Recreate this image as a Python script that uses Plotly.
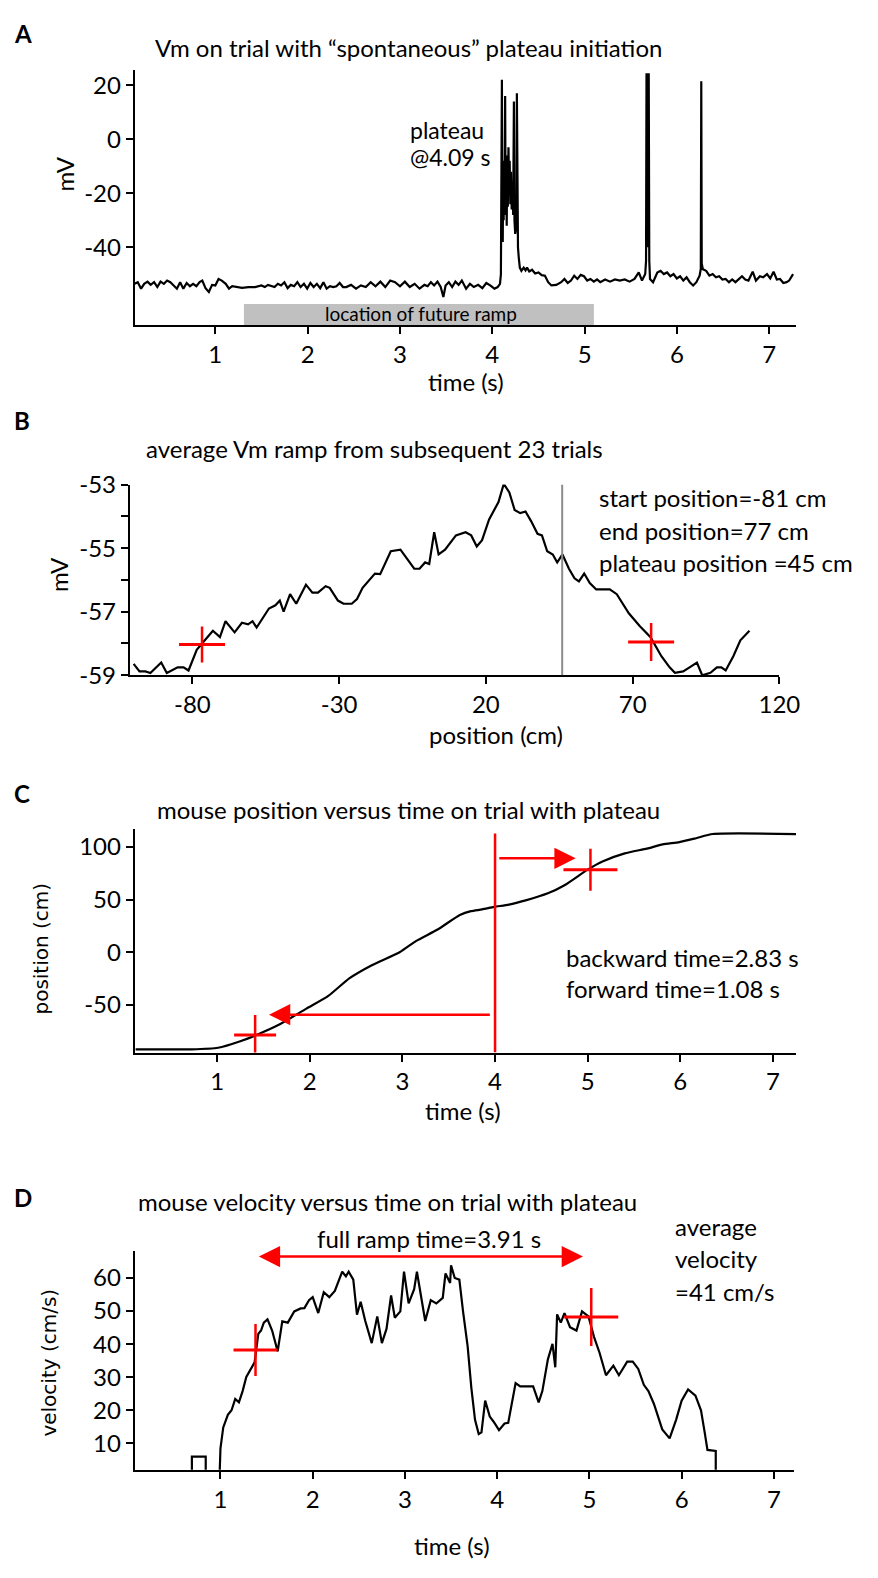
import plotly.graph_objects as go

W, H = 878, 1578
FONT = "Lato, Open Sans, sans-serif"
FONT2 = "DejaVu Sans, Verdana, sans-serif"
RED = "#ff0000"

# ---------------- Panel A: Vm trace ----------------
vm_time = [0.125, 0.16, 0.196, 0.23, 0.266, 0.30, 0.337, 0.372, 0.407, 0.443, 0.478, 0.513, 0.549, 0.584,
           0.619, 0.654, 0.69, 0.725, 0.76, 0.795, 0.83, 0.859, 0.894, 0.93, 0.965, 1.0, 1.035, 1.07, 1.113,
           1.148, 1.183, 1.219, 1.289, 1.36, 1.43, 1.5, 1.536, 1.571, 1.607, 1.642, 1.677, 1.712, 1.748,
           1.783, 1.818, 1.854, 1.889, 1.924, 1.96, 1.995, 2.03, 2.065, 2.1, 2.136, 2.171, 2.206, 2.242,
           2.277, 2.312, 2.347, 2.383, 2.418, 2.47, 2.524, 2.577, 2.63, 2.683, 2.735, 2.788, 2.841, 2.894,
           2.947, 3.0, 3.053, 3.106, 3.159, 3.212, 3.265, 3.3, 3.335, 3.37, 3.406, 3.441, 3.47, 3.494,
           3.529, 3.565, 3.6, 3.635, 3.67, 3.716, 3.758, 3.8, 3.847, 3.892, 3.935, 3.977, 4.023, 4.058,
           4.083, 4.093,
           4.100, 4.104, 4.108, 4.113, 4.118, 4.123, 4.128, 4.133, 4.139, 4.144, 4.150, 4.156, 4.162,
           4.168, 4.175, 4.182, 4.188, 4.195, 4.202, 4.210, 4.218, 4.226, 4.234, 4.240, 4.248, 4.256,
           4.262, 4.266, 4.270, 4.278, 4.287, 4.298, 4.315, 4.34, 4.36, 4.376, 4.40, 4.43, 4.464, 4.5,
           4.535, 4.57, 4.605, 4.64, 4.693, 4.746, 4.781, 4.817, 4.852, 4.887, 4.922, 4.958, 4.993,
           5.028, 5.063, 5.099, 5.134, 5.169, 5.222, 5.275, 5.328, 5.381, 5.434, 5.487, 5.54, 5.586,
           5.621, 5.656, 5.665, 5.670, 5.676, 5.682, 5.688, 5.694, 5.700, 5.708, 5.741, 5.787, 5.822,
           5.857, 5.893, 5.928, 5.963, 5.998, 6.034, 6.069, 6.104, 6.139, 6.175, 6.21, 6.245, 6.258,
           6.263, 6.268, 6.28, 6.316, 6.351, 6.386, 6.422, 6.457, 6.492, 6.527, 6.563, 6.598, 6.633,
           6.668, 6.704, 6.739, 6.774, 6.82, 6.855, 6.898, 6.933, 6.975, 7.01, 7.046, 7.081, 7.116,
           7.152, 7.187, 7.215, 7.257]
vm_mv = [-53.5, -52.9, -55.3, -53.5, -52.7, -53.9, -52.9, -54.7, -52.7, -53.5, -52.3, -52.9, -54.1, -55.3,
         -52.9, -55.3, -53.2, -54.4, -53.5, -54.4, -52.9, -52.3, -55.1, -56.5, -53.9, -54.1, -51.7, -52.3,
         -53.5, -55.3, -54.4, -54.7, -55.0, -54.7, -54.7, -54.1, -54.7, -53.9, -54.4, -54.7, -53.5, -54.1,
         -52.9, -55.1, -53.9, -54.4, -52.9, -54.7, -53.5, -55.3, -53.2, -54.7, -53.5, -55.1, -52.9, -55.3,
         -54.4, -54.7, -54.4, -53.2, -54.7, -54.7, -53.9, -55.3, -54.1, -54.7, -52.9, -54.4, -52.7, -54.7,
         -52.3, -52.9, -54.4, -52.7, -54.7, -53.5, -55.3, -53.9, -54.4, -52.9, -54.1, -52.7, -54.7, -58.4,
         -54.1, -52.9, -54.7, -52.7, -53.9, -52.3, -55.3, -53.5, -54.7, -53.9, -55.1, -53.2, -54.1, -55.3,
         -54.7, -53.5, -50.0,
         -10.0, 22.0, -25.0, -38.0, -12.0, -30.0, -8.0, -22.0, 16.0, -28.0, -10.0, -32.0, -6.0,
         -25.0, -3.0, -20.0, -8.0, -24.0, -12.0, -26.0, -18.0, -28.0, 14.0, -30.0, -35.0, -33.0,
         -30.0, 17.0, -36.0, -40.0, -44.0, -47.5, -48.7, -47.5, -48.5, -47.5, -48.9, -48.3, -49.7, -49.3,
         -50.3, -50.5, -52.9, -54.1, -53.9, -52.9, -51.7, -53.2, -52.3, -50.5, -51.7, -50.2, -50.7,
         -52.3, -51.7, -52.7, -51.9, -52.9, -51.9, -52.7, -51.9, -52.3, -51.9, -52.7, -51.7, -49.3,
         -52.3, -49.9, -45.0, 24.4, -40.0, 24.4, -35.0, 24.4, -45.0, -51.7, -52.9, -49.3, -48.7,
         -49.9, -49.3, -50.7, -49.9, -51.5, -50.7, -52.3, -51.1, -52.9, -54.1, -52.9, -50.5, -48.0,
         21.5, -46.0, -48.1, -48.7, -50.5, -49.9, -51.1, -50.7, -51.9, -51.7, -52.9, -51.9, -52.9,
         -51.7, -50.7, -51.9, -52.3, -49.0, -52.3, -50.7, -51.1, -49.9, -51.5, -49.0, -51.9, -51.7,
         -53.2, -52.9, -52.3, -49.9]
ramp_bar_t = [1.31, 5.10]
ramp_bar_mv = [-61.0, -68.9]
a_xticks = [1, 2, 3, 4, 5, 6, 7]
a_yticks = [-40, -20, 0, 20]

# ---------------- Panel B: average ramp ----------------
pos_cm = [-100, -98, -96, -94.3, -90.6, -88.7, -85, -83, -81.3, -78.5, -76.7, -73, -70.6, -68.7, -65.6,
          -63.1, -61, -59.5, -58.1, -53.9, -51.7, -50.2, -48.9, -46.7, -44.6, -41.3, -39.1, -37.2, -34.6,
          -33.2, -30.4, -28.5, -25.7, -23.9, -22, -17.8, -16, -12.4, -9.1, -7.2, -4.4, -2.6, -0.7, 0.7,
          2.4, 3.9, 6.1, 9.8, 13.1, 15, 16.9, 18.7, 21.1, 24.3, 26.1, 28, 29.8, 31.7, 33.5, 35.4, 37.6,
          39.1, 40.9, 42.8, 44.3, 46.1, 48.3, 50.2, 51.7, 53.5, 55.4, 57.6, 62.2, 64.6, 68.7, 72.4, 76.1,
          79.8, 82.6, 84.4, 87.2, 89.4, 91.9, 93.7, 96.5, 98.7, 100.2, 101.7, 104.3, 106.7, 109.8]
ramp_mv = [-58.64, -58.88, -58.88, -58.93, -58.6, -58.93, -58.75, -58.75, -58.85, -58.2, -58.0, -57.6,
           -57.8, -57.3, -57.65, -57.35, -57.4, -57.3, -57.5, -56.9, -56.8, -56.65, -57.0, -56.45, -56.75,
           -56.15, -56.4, -56.4, -56.2, -56.25, -56.65, -56.75, -56.75, -56.6, -56.25, -55.8, -55.82,
           -55.1, -55.05, -55.3, -55.65, -55.65, -55.45, -55.5, -54.5, -55.2, -55.05, -54.6, -54.5, -54.6,
           -54.95, -54.75, -54.1, -53.55, -52.98, -53.25, -53.8, -53.9, -53.85, -54.15, -54.55, -54.6,
           -55.1, -55.2, -55.45, -55.2, -55.65, -55.95, -56.05, -55.8, -56.1, -56.3, -56.3, -56.45,
           -57.05, -57.45, -57.8, -58.4, -58.75, -58.92, -58.88, -58.75, -58.6, -59.0, -58.92, -58.75,
           -58.75, -58.85, -58.4, -57.9, -57.6]
plateau_pos = 46
ramp_cross_pos = [-76.7, 76.3]
ramp_cross_mv = [-58.03, -57.95]
b_xticks = [-80, -30, 20, 70, 120]
b_yticks = [-59, -57, -55, -53]

# ---------------- Panel C: position vs time ----------------
c_time = [0.12, 0.72, 1.01, 1.25, 1.43, 1.66, 1.96, 2.2, 2.43, 2.67, 2.97, 3.15, 3.38, 3.62, 3.74, 3.86,
          3.99, 4.15, 4.33, 4.57, 4.75, 5.0, 5.16, 5.4, 5.64, 5.81, 5.99, 6.17, 6.35, 7.25]
c_pos = [-92.1, -92.1, -90.6, -84.4, -78.3, -69.1, -53.7, -41.4, -24.5, -12.2, 0.1, 10.9, 21.6, 35.4,
         39.1, 40.7, 43.1, 45.3, 49.3, 56.0, 63.7, 78.5, 86.2, 93.9, 98.5, 102.5, 104.6, 108.3, 112.3, 112.3]
plateau_t = 4.0
plateau_line_pos = [-95, 112.9]
back_arrow_t = [3.96, 1.56]
back_arrow_pos = -59.2
fwd_arrow_t = [4.03, 4.87]
fwd_arrow_pos = 89.2
c_cross_t = [1.41, 5.03]
c_cross_pos = [-78.5, 78.5]
c_xticks = [1, 2, 3, 4, 5, 6, 7]
c_yticks = [-50, 0, 50, 100]

# ---------------- Panel D: velocity vs time ----------------
d_time = [0.69, 0.69, 0.84, 0.84, 0.99, 1.0, 1.03, 1.08, 1.12, 1.16, 1.2, 1.24, 1.28, 1.33, 1.37, 1.41,
          1.44, 1.47, 1.51, 1.56, 1.62, 1.67, 1.73, 1.8, 1.87, 1.91, 1.96, 2.0, 2.06, 2.12, 2.18, 2.24,
          2.27, 2.32, 2.36, 2.39, 2.44, 2.48, 2.52, 2.57, 2.64, 2.7, 2.75, 2.8, 2.85, 2.89, 2.95, 2.99,
          3.04, 3.1, 3.13, 3.16, 3.22, 3.28, 3.34, 3.41, 3.44, 3.49, 3.5, 3.54, 3.59, 3.63, 3.68, 3.72,
          3.76, 3.8, 3.83, 3.87, 3.92, 3.96, 4.02, 4.08, 4.12, 4.2, 4.25, 4.31, 4.39, 4.45, 4.49, 4.55,
          4.6, 4.63, 4.65, 4.69, 4.73, 4.79, 4.86, 4.92, 4.99, 5.05, 5.11, 5.18, 5.26, 5.32, 5.41, 5.47,
          5.53, 5.59, 5.64, 5.7, 5.79, 5.87, 5.94, 6.0, 6.07, 6.15, 6.21, 6.25, 6.28, 6.37, 6.37]
d_vel = [0, 6.0, 6.0, 0, 0, 8.5, 14.8, 18.6, 20.0, 23.4, 22.4, 25.8, 30.1, 32.5, 34.5, 43.1,
         44.1, 46.5, 47.5, 44.1, 37.8, 46.9, 46.5, 49.9, 50.8, 50.9, 53.3, 54.2, 49.4, 55.7, 54.2, 56.1,
         58.1, 61.9, 60.5, 61.9, 59.5, 48.9, 52.8, 47.0, 40.3, 48.4, 40.3, 44.6, 54.7, 48.0, 49.9, 61.9,
         52.3, 56.6, 61.9, 56.6, 47.0, 53.3, 52.3, 54.0, 61.4, 58.5, 63.8, 60.0, 59.5, 49.9, 39.3, 26.8,
         17.1, 12.8, 13.3, 22.9, 18.1, 16.6, 14.0, 16.0, 16.2, 28.2, 27.2, 27.2, 27.2, 22.4, 25.8, 35.4,
         40.1, 33.0, 49.0, 46.5, 49.4, 45.1, 44.1, 49.9, 48.4, 42.2, 37.4, 30.6, 33.5, 30.6, 34.7, 34.7,
         32.5, 27.7, 25.8, 21.9, 14.2, 11.5, 17.1, 22.9, 26.3, 24.4, 20.0, 13.3, 8.0, 7.7, 0]
ramp_span_t = [1.40, 4.93]
ramp_span_vel = 66.5
d_cross_t = [1.38, 5.02]
d_cross_vel = [38.2, 48.2]
d_xticks = [1, 2, 3, 4, 5, 6, 7]
d_yticks = [10, 20, 30, 40, 50, 60]


def labels(vals):
    return [str(v) for v in vals]  # plain hyphen-minus like the original


def dom_x(a, b):
    return [a / W, b / W]


def dom_y(top, bottom):
    return [1 - bottom / H, 1 - top / H]


fig = go.Figure()
line_style = dict(color="black", width=2.2)
fig.add_trace(go.Scatter(x=vm_time, y=vm_mv, mode="lines", line=line_style, xaxis="x", yaxis="y"))
fig.add_trace(go.Scatter(x=pos_cm, y=ramp_mv, mode="lines", line=line_style, xaxis="x2", yaxis="y2"))
fig.add_trace(go.Scatter(x=c_time, y=c_pos, mode="lines",
                         line=dict(color="black", width=2.2, shape="spline", smoothing=0.6),
                         xaxis="x3", yaxis="y3"))
fig.add_trace(go.Scatter(x=d_time, y=d_vel, mode="lines", line=line_style, xaxis="x4", yaxis="y4"))

tickfont = dict(family=FONT, size=24, color="black")
ax_common = dict(showline=True, linecolor="black", linewidth=2, ticks="outside", ticklen=7, tickwidth=2,
                 tickcolor="black", showgrid=False, zeroline=False, tickfont=tickfont, fixedrange=True)


def tk(vals):
    return dict(tickvals=vals, ticktext=labels(vals))


layout = dict(
    width=W, height=H, margin=dict(l=0, r=0, t=0, b=0), showlegend=False,
    paper_bgcolor="white", plot_bgcolor="white",
    xaxis=dict(ax_common, domain=dom_x(138, 815.6), range=[0.127, 7.29], anchor="y", **tk(a_xticks)),
    yaxis=dict(ax_common, domain=dom_y(55.4, 315.2), range=[-68.9, 25.5], anchor="x", **tk(a_yticks)),
    xaxis2=dict(ax_common, domain=dom_x(133, 798.5), range=[-101.3, 120], anchor="y2", **tk(b_xticks)),
    yaxis2=dict(ax_common, domain=dom_y(477.3, 671.6), range=[-59, -53], anchor="x2",
                minor=dict(tick0=-59, dtick=1, ticks="outside", ticklen=7, tickwidth=2, tickcolor="black"),
                **tk(b_yticks)),
    xaxis3=dict(ax_common, domain=dom_x(138, 815.6), range=[0.11, 7.25], anchor="y3", **tk(c_xticks)),
    yaxis3=dict(ax_common, domain=dom_y(828.3, 1056), range=[-95.2, 117], anchor="x3", **tk(c_yticks)),
    xaxis4=dict(ax_common, domain=dom_x(138, 813.6), range=[0.07, 7.22], anchor="y4", **tk(d_xticks)),
    yaxis4=dict(ax_common, domain=dom_y(1258, 1481), range=[2.0, 68.2], anchor="x4", **tk(d_yticks)),
)
fig.update_layout(**layout)

shapes = []
# gray bar in A
shapes.append(dict(type="rect", xref="x", yref="y", x0=ramp_bar_t[0], x1=ramp_bar_t[1], y0=ramp_bar_mv[0],
                   y1=ramp_bar_mv[1], fillcolor="#c0c0c0", line=dict(width=0), layer="below"))
# plateau position in B
shapes.append(dict(type="line", xref="x2", yref="y2", x0=plateau_pos, x1=plateau_pos, y0=-59, y1=-53,
                   line=dict(color="#8c8c8c", width=2)))
# plateau time in C
shapes.append(dict(type="line", xref="x3", yref="y3", x0=plateau_t, x1=plateau_t, y0=plateau_line_pos[0],
                   y1=plateau_line_pos[1], line=dict(color=RED, width=2.5)))


def cross(xr, yr, x, y, hx, hy):
    out = []
    out.append(dict(type="line", xref=xr, yref=yr, xsizemode="pixel", ysizemode="scaled", xanchor=x,
                    x0=-hx, x1=hx, y0=y, y1=y, line=dict(color=RED, width=3)))
    out.append(dict(type="line", xref=xr, yref=yr, xsizemode="scaled", ysizemode="pixel", yanchor=y,
                    x0=x, x1=x, y0=-hy, y1=hy, line=dict(color=RED, width=2.5)))
    return out


shapes += cross("x2", "y2", ramp_cross_pos[0], ramp_cross_mv[0], 23, 18)
shapes += cross("x2", "y2", ramp_cross_pos[1], ramp_cross_mv[1], 23, 19)
shapes += cross("x3", "y3", c_cross_t[0], c_cross_pos[0], 21, 20)
shapes += cross("x3", "y3", c_cross_t[1], c_cross_pos[1], 27, 21)
shapes += cross("x4", "y4", d_cross_t[0], d_cross_vel[0], 22, 26)
shapes += cross("x4", "y4", d_cross_t[1], d_cross_vel[1], 27, 29)
fig.update_layout(shapes=shapes)

ann = []


def txt(x, y, s, size=24, anchor="center", family=FONT, bold=False, angle=0):
    if bold:
        s = "<b>" + s + "</b>"
    ann.append(dict(xref="paper", yref="paper", x=x / W, y=1 - y / H, text=s, showarrow=False,
                    xanchor=anchor, yanchor="middle", textangle=angle,
                    font=dict(family=family, size=size, color="black")))


TS = 24
# Panel letters
txt(12, 18, "A", 24, "left", bold=True)
txt(12, 412, "B", 24, "left", bold=True)
txt(12, 792, "C", 24, "left", bold=True)
txt(12, 1204, "D", 24, "left", bold=True)
# Titles
txt(419, 32, "Vm on trial with “spontaneous” plateau initiation", TS)
txt(384, 441, "average Vm ramp from subsequent 23 trials", TS)
txt(418, 808, "mouse position versus time on trial with plateau", TS)
txt(397, 1208, "mouse velocity versus time on trial with plateau", TS)
# Panel A texts
txt(66, 161, "mV", TS, angle=-90)
txt(477, 372, "time (s)", TS)
txt(418, 116, "plateau", 23, "left")
txt(418, 144, "@4.09 s", 23, "left")
txt(431, 303, "location of future ramp", 19)
# Panel B texts
txt(60, 569, "mV", TS, angle=-90)
txt(508, 732, "position (cm)", TS)
txt(612, 491, "start position=-81 cm", TS, "left")
txt(612, 524, "end position=77 cm", TS, "left")
txt(612, 557, "plateau position =45 cm", TS, "left")
# Panel C texts
txt(42, 950, "position (cm)", 20, family=FONT2, angle=-90)
txt(474, 1115, "time (s)", TS)
txt(578, 959, "backward time=2.83 s", TS, "left")
txt(578, 991, "forward time=1.08 s", TS, "left")
# Panel D texts
txt(50, 1372, "velocity (cm/s)", 20, family=FONT2, angle=-90)
txt(463, 1558, "time (s)", TS)
txt(440, 1245, "full ramp time=3.91 s", TS)
txt(690, 1233, "average", TS, "left")
txt(690, 1266, "velocity", TS, "left")
txt(690, 1299, "=41 cm/s", TS, "left")

# arrows
arrow = dict(showarrow=True, arrowhead=2, arrowsize=1.7, arrowwidth=2.5, arrowcolor=RED, text="")
ann.append(dict(arrow, xref="x3", yref="y3", axref="x3", ayref="y3", x=back_arrow_t[1], y=back_arrow_pos,
                ax=back_arrow_t[0], ay=back_arrow_pos))
ann.append(dict(arrow, xref="x3", yref="y3", axref="x3", ayref="y3", x=fwd_arrow_t[1], y=fwd_arrow_pos,
                ax=fwd_arrow_t[0], ay=fwd_arrow_pos))
ann.append(dict(arrow, xref="x4", yref="y4", axref="x4", ayref="y4", x=ramp_span_t[1], y=ramp_span_vel,
                ax=ramp_span_t[0], ay=ramp_span_vel, arrowside="end+start"))
fig.update_layout(annotations=ann)

fig.write_html("out.html")
